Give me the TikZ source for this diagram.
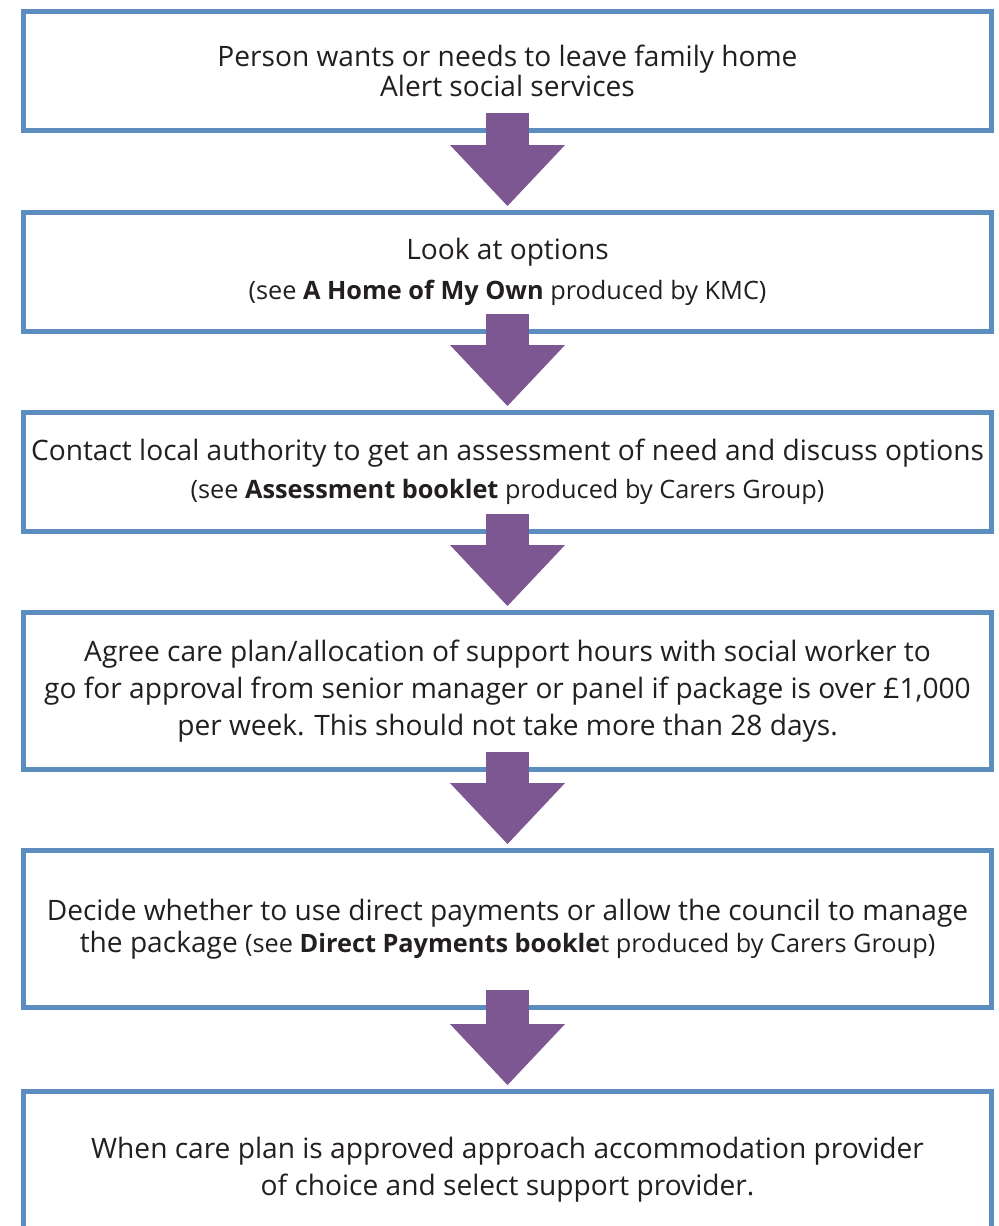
\documentclass[tikz,border=0pt]{standalone}
\usepackage{fontspec}
\setmainfont{Open Sans}
\usetikzlibrary{arrows.meta}

\definecolor{boxblue}{HTML}{5B8EBF}
\definecolor{arrowpurple}{HTML}{7D5792}
\definecolor{textgrey}{HTML}{231F20}

\newcommand{\seenote}[1]{{\fontsize{14.4}{16}\selectfont #1}}

\begin{document}
\begin{tikzpicture}[x=0.02cm,y=-0.02cm,
  stepbox/.style={draw=boxblue,line width=0.1cm,fill=white,text=textgrey,align=center,minimum width=19.36cm,inner sep=0pt},
  shortbox/.style={stepbox,minimum height=2.38cm},
  tallbox/.style={stepbox,minimum height=3.14cm},
  blockarrow/.style={draw=arrowpurple,line width=0.86cm,-{Triangle[width=2.3cm,length=1.22cm,line width=0pt]}}]
\useasboundingbox[fill=white] (0,0) rectangle (998,1226);
\node[shortbox,font=\fontsize{16}{17}\selectfont] (leave) at (507.5,71) {Person wants or needs to leave family home\\Alert social services};
\node[shortbox,font=\fontsize{16}{22.7}\selectfont] (options) at (507.5,272) {Look at options\\\seenote{(see \textbf{A Home of My Own} produced by KMC)}};
\node[shortbox,font=\fontsize{16}{21.5}\selectfont] (assess) at (507.5,472) {Contact local authority to get an assessment of need and discuss options\\\seenote{(see \textbf{Assessment booklet} produced by Carers Group)}};
\node[tallbox,font=\fontsize{16}{21}\selectfont] (careplan) at (507.5,691) {Agree care plan/allocation of support hours with social worker to\\go for approval from senior manager or panel if package is over £1,000\\per week. This should not take more than 28 days.};
\node[tallbox,font=\fontsize{16}{18}\selectfont] (payments) at (507.5,929) {Decide whether to use direct payments or allow the council to manage\\the package \seenote{(see \textbf{Direct Payments bookle}t produced by Carers Group)}};
\node[tallbox,font=\fontsize{16}{21}\selectfont] (provider) at (507.5,1170) {When care plan is approved approach accommodation provider\\of choice and select support provider.};
% block arrows between the steps
\draw[blockarrow] ([yshift=0.4cm]leave.south) -- ([yshift=0.08cm]options.north);
\draw[blockarrow] ([yshift=0.4cm]options.south) -- ([yshift=0.08cm]assess.north);
\draw[blockarrow] ([yshift=0.4cm]assess.south) -- ([yshift=0.08cm]careplan.north);
\draw[blockarrow] ([yshift=0.4cm]careplan.south) -- ([yshift=0.08cm]payments.north);
\draw[blockarrow] ([yshift=0.4cm]payments.south) -- ([yshift=0.08cm]provider.north);
\end{tikzpicture}
\end{document}
